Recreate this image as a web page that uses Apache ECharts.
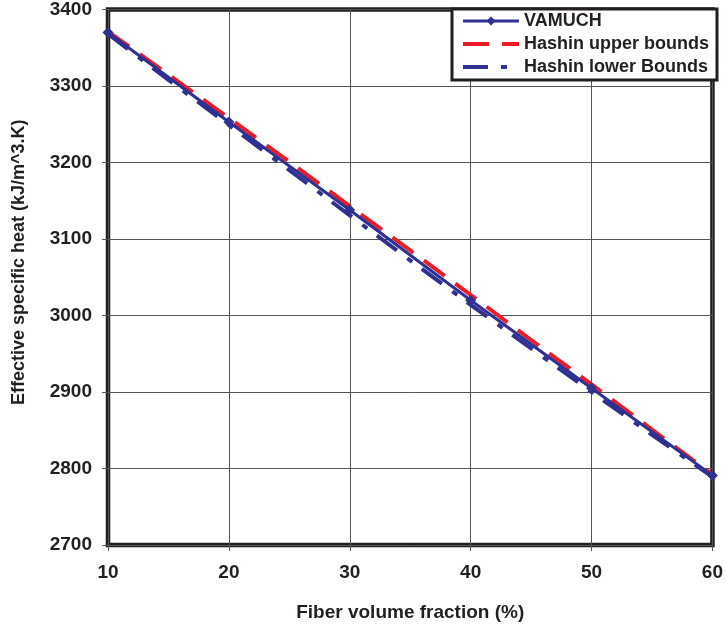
<!DOCTYPE html>
<html><head><meta charset="utf-8">
<script src="https://cdn.jsdelivr.net/npm/echarts@6/dist/echarts.min.js"></script>
<style>html,body{margin:0;padding:0;background:#fff}#c{width:726px;height:630px}</style>
</head><body><div id="c"></div>
<script>
const xVamuch = [10, 20, 30, 40, 50, 60];
const vamuch = [3370, 3253, 3138, 3020, 2905, 2791];
const xBounds = [10, 15, 20, 25, 30, 35, 40, 45, 50, 55, 60];
const upper = [3371, 3315, 3258, 3201, 3143, 3085, 3027, 2968, 2910, 2851, 2792];
const lower = [3368, 3308, 3249, 3190, 3131, 3072, 3014, 2957, 2900, 2844, 2789];
const yTicks = [2700, 2800, 2900, 3000, 3100, 3200, 3300, 3400];
const xTicks = [10, 20, 30, 40, 50, 60];

const FONT = '"Liberation Sans", Arial, sans-serif';
const INK = '#231f20';
const NAVY = '#2e3192';
const RED = '#ed1c24';
const chart = echarts.init(document.getElementById('c'), null, {renderer: 'canvas'});
const zip = (xs, ys) => xs.map((x, i) => [x, ys[i]]);
chart.setOption({
  animation: false,
  backgroundColor: '#fff',
  grid: {left: 108, right: 10, top: 9, bottom: 85, show: true, borderColor: INK, borderWidth: 4.5, backgroundColor: 'transparent'},
  xAxis: {
    type: 'value', min: xTicks[0], max: xTicks[xTicks.length - 1], interval: 10,
    name: 'Fiber volume fraction (%)', nameLocation: 'middle', nameGap: 58,
    nameTextStyle: {fontFamily: FONT, fontWeight: 'bold', fontSize: 19, color: INK},
    axisLine: {show: false},
    axisTick: {show: true, length: 6, lineStyle: {color: '#555', width: 1}},
    axisLabel: {fontFamily: FONT, fontWeight: 'bold', fontSize: 19, color: INK, margin: 18},
    splitLine: {show: true, lineStyle: {color: '#555', width: 1}}
  },
  yAxis: {
    type: 'value', min: yTicks[0], max: yTicks[yTicks.length - 1], interval: 100,
    name: 'Effective specific heat (kJ/m^3.K)', nameLocation: 'middle', nameGap: 80,
    nameTextStyle: {fontFamily: FONT, fontWeight: 'bold', fontSize: 18, color: INK, padding: [0, 0, 0, 30]},
    axisLine: {show: false},
    axisTick: {show: true, length: 6, lineStyle: {color: '#555', width: 1}},
    axisLabel: {fontFamily: FONT, fontWeight: 'bold', fontSize: 19, color: INK, margin: 16, formatter: v => String(v)},
    splitLine: {show: true, lineStyle: {color: '#555', width: 1}}
  },
  legend: {
    right: 9, top: 9, orient: 'vertical',
    backgroundColor: '#fff', borderColor: INK, borderWidth: 3,
    padding: [3, 8, 4, 9], itemGap: 5, itemWidth: 56, itemHeight: 11,
    lineStyle: {width: 'inherit'},
    textStyle: {fontFamily: FONT, fontWeight: 'bold', fontSize: 18, color: INK},
    data: [
      {name: 'VAMUCH'},
      {name: 'Hashin upper bounds', itemStyle: {color: 'rgba(0,0,0,0)', borderWidth: 0}},
      {name: 'Hashin lower Bounds', itemStyle: {color: 'rgba(0,0,0,0)', borderWidth: 0}}
    ]
  },
  series: [
    {
      name: 'Hashin upper bounds', type: 'line', data: zip(xBounds, upper), showSymbol: false, symbol: 'none',
      lineStyle: {color: RED, width: 4, type: [26, 13]}, itemStyle: {color: RED}, z: 2
    },
    {
      name: 'Hashin lower Bounds', type: 'line', data: zip(xBounds, lower), showSymbol: false, symbol: 'none',
      lineStyle: {color: NAVY, width: 4, type: [25, 13, 6, 12]}, itemStyle: {color: NAVY}, z: 3
    },
    {
      name: 'VAMUCH', type: 'line', data: zip(xVamuch, vamuch), symbol: 'diamond', symbolSize: 11,
      lineStyle: {color: NAVY, width: 3}, itemStyle: {color: NAVY}, z: 4
    }
  ]
});
</script></body></html>
